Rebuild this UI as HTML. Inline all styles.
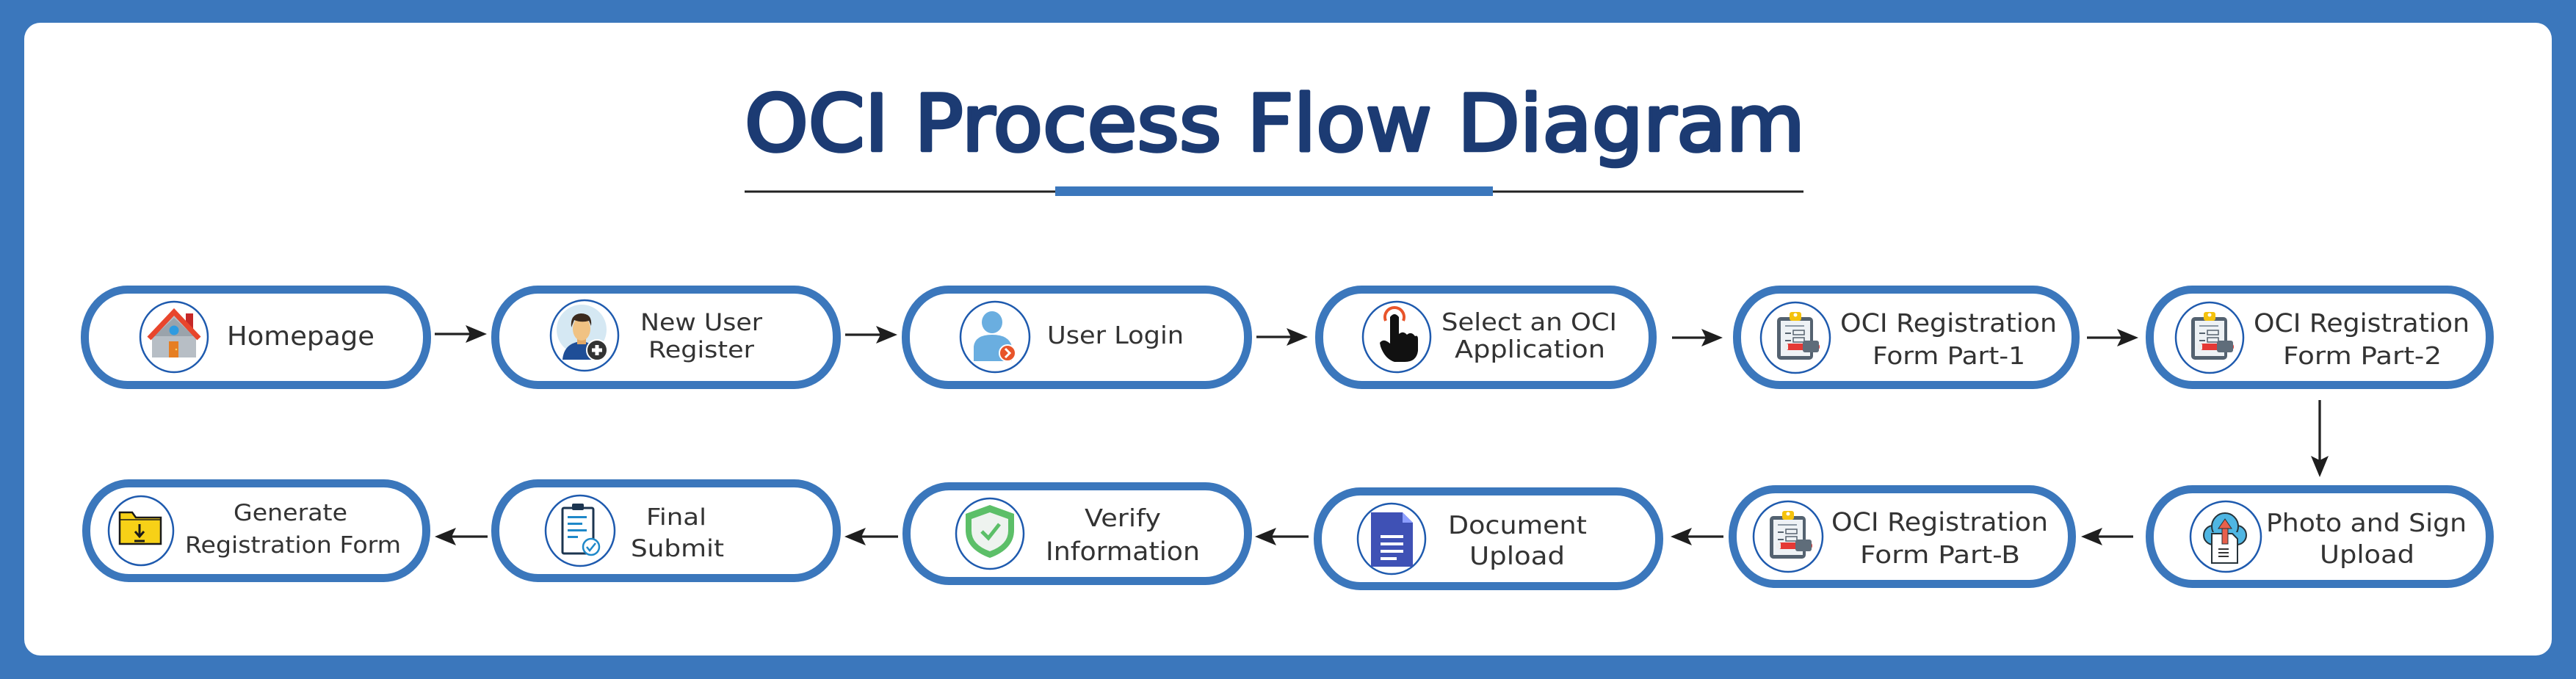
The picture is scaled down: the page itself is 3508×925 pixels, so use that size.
<!DOCTYPE html>
<html>
<head>
<meta charset="utf-8">
<style>
html,body{margin:0;padding:0;background:#3b77bc;}
svg{display:block;}
.t{font-family:"DejaVu Sans","Liberation Sans",sans-serif;fill:#333333;}
.ti{font-family:"DejaVu Sans","Liberation Sans",sans-serif;fill:#1c3b73;stroke:#1c3b73;stroke-width:4.5;stroke-linejoin:round;font-weight:normal;}
</style>
</head>
<body>
<svg width="3508" height="925" viewBox="0 0 3508 925" xmlns="http://www.w3.org/2000/svg">
  <rect x="0" y="0" width="3508" height="925" fill="#3b77bc"/>
  <rect x="33" y="31" width="3442" height="862" rx="22" ry="22" fill="#ffffff"/>

  <!-- Title -->
  <text class="ti" x="1014" y="205" font-size="106" textLength="1444" lengthAdjust="spacingAndGlyphs">OCI Process Flow Diagram</text>
  <rect x="1014" y="259.5" width="1442" height="3" fill="#222"/>
  <rect x="1437" y="254" width="596" height="13" fill="#3b77bc"/>

  <!-- Pills -->
  <g fill="#ffffff" stroke="#3b77bc" stroke-width="11">
    <rect x="115.5" y="394.5" width="466" height="130" rx="58" ry="64"/>
    <rect x="674.5" y="394.5" width="465" height="130" rx="58" ry="64"/>
    <rect x="1233.5" y="394.5" width="466" height="130" rx="58" ry="64"/>
    <rect x="1796.5" y="394.5" width="454" height="130" rx="58" ry="64"/>
    <rect x="2365.5" y="394.5" width="461" height="130" rx="58" ry="64"/>
    <rect x="2927.5" y="394.5" width="463" height="130" rx="58" ry="64"/>

    <rect x="117.5" y="658.5" width="463" height="129" rx="58" ry="64"/>
    <rect x="674.5" y="658.5" width="465" height="129" rx="58" ry="64"/>
    <rect x="1234.5" y="662.5" width="465" height="129" rx="58" ry="64"/>
    <rect x="1794.5" y="669.5" width="465" height="129" rx="58" ry="64"/>
    <rect x="2359.5" y="666.5" width="462" height="129" rx="58" ry="64"/>
    <rect x="2927.5" y="666.5" width="463" height="129" rx="58" ry="64"/>
  </g>

  <!-- Icon circles -->
  <g fill="none" stroke="#1e5aae" stroke-width="2.5">
    <ellipse cx="237" cy="459" rx="46" ry="48"/>
    <ellipse cx="796" cy="457" rx="46" ry="48"/>
    <ellipse cx="1355" cy="459" rx="47" ry="48"/>
    <ellipse cx="1902" cy="459" rx="46" ry="48"/>
    <ellipse cx="2445" cy="460" rx="47" ry="48"/>
    <ellipse cx="3009" cy="460" rx="46" ry="48"/>
    <ellipse cx="192" cy="723" rx="44" ry="47"/>
    <ellipse cx="790" cy="723" rx="47" ry="48"/>
    <ellipse cx="1348" cy="727" rx="46" ry="48"/>
    <ellipse cx="1895" cy="734" rx="46" ry="48"/>
    <ellipse cx="2435" cy="731" rx="47" ry="48"/>
    <ellipse cx="3031" cy="731" rx="48" ry="48"/>
  </g>

  <!-- Arrows -->
  <g stroke="#222" stroke-width="3.3">
    <line x1="592" y1="455" x2="640" y2="455"/>
    <line x1="1151" y1="456" x2="1199" y2="456"/>
    <line x1="1711" y1="459" x2="1758" y2="459"/>
    <line x1="2277" y1="460" x2="2323" y2="460"/>
    <line x1="2842" y1="460" x2="2889" y2="460"/>
    <line x1="3159" y1="545" x2="3159" y2="628"/>
    <line x1="2905" y1="731" x2="2857" y2="731"/>
    <line x1="2347" y1="731" x2="2298" y2="731"/>
    <line x1="1782" y1="731" x2="1732" y2="731"/>
    <line x1="1223" y1="731" x2="1173" y2="731"/>
    <line x1="664" y1="731" x2="615" y2="731"/>
  </g>
  <g fill="#1e1e1e">
    <polygon points="663,455 634,443 640,455 634,467"/>
    <polygon points="1222,456 1193,444 1199,456 1193,468"/>
    <polygon points="1781,459 1752,447 1758,459 1752,471"/>
    <polygon points="2346,460 2317,448 2323,460 2317,472"/>
    <polygon points="2912,460 2883,448 2889,460 2883,472"/>
    <polygon points="3159,650 3147,621 3159,627 3171,621"/>
    <polygon points="2834,731 2863,719 2857,731 2863,743"/>
    <polygon points="2275,731 2304,719 2298,731 2304,743"/>
    <polygon points="1709,731 1738,719 1732,731 1738,743"/>
    <polygon points="1150,731 1179,719 1173,731 1179,743"/>
    <polygon points="592,731 621,719 615,731 621,743"/>
  </g>

  <!-- Icon: House -->
  <g>
    <rect x="253" y="427" width="10" height="22" fill="#c62828"/>
    <polygon points="207,487 207,458 237,430 267,458 267,487" fill="#b7bec5"/>
    <polygon points="210,458 237,433 264,458" fill="#9aa3ab"/>
    <polyline points="203,461 237,425 271,461" fill="none" stroke="#e8452c" stroke-width="7" stroke-linejoin="miter"/>
    <circle cx="237" cy="450" r="6.5" fill="#2f9be0"/>
    <rect x="230" y="465" width="13" height="22" fill="#e67e22"/>
    <circle cx="240" cy="476" r="1.3" fill="#f6d365"/>
  </g>

  <!-- Icon: New user -->
  <g>
    <circle cx="792" cy="449" r="34" fill="#d5e8f3"/>
    <path d="M766 490 Q768 467 792 465 Q814 467 816 490 Z" fill="#1f4e97"/>
    <rect x="786" y="455" width="12" height="14" fill="#e2a866"/>
    <ellipse cx="792" cy="448" rx="12" ry="16" fill="#f0c283"/>
    <path d="M778 446 Q776 428 791 427 Q807 427 805 444 L802 437 Q792 440 782 436 Z" fill="#3b2a1e"/>
    <circle cx="813" cy="477" r="14" fill="#333" stroke="#fff" stroke-width="2"/>
    <rect x="806" y="474.5" width="14" height="5" fill="#fff"/>
    <rect x="810.5" y="470" width="5" height="14" fill="#fff"/>
  </g>

  <!-- Icon: User login -->
  <g>
    <ellipse cx="1351" cy="439" rx="14" ry="15" fill="#6aaee0"/>
    <path d="M1326 492 L1326 472 Q1328 456 1351 456 Q1374 456 1378 472 L1378 492 Z" fill="#6aaee0"/>
    <circle cx="1372" cy="481" r="11" fill="#e8542a" stroke="#fff" stroke-width="2"/>
    <polyline points="1369,475 1375,481 1369,487" fill="none" stroke="#fff" stroke-width="3"/>
  </g>

  <!-- Icon: Select (hand) -->
  <g>
    <path d="M1887 437 A13 13 0 1 1 1911 437" fill="none" stroke="#e8542a" stroke-width="4"/>
    <path d="M1893 466 L1893 432 Q1899 424 1905 432 L1905 455 Q1911 450 1916 456 Q1922 451 1927 458 Q1931 456 1931 462 L1931 478 Q1929 493 1913 493 L1899 493 Q1886 489 1880 472 L1879 467 Q1884 460 1893 468 Z" fill="#111"/>
  </g>

  <!-- Icon: Clipboards -->
  <g transform="translate(2445,460)">
    <rect x="-25" y="-28" width="49" height="58" rx="5" fill="#546270"/>
    <rect x="-20" y="-23" width="40" height="48" fill="#eef2f5"/>
    <rect x="-8" y="-35" width="16" height="12" rx="3" fill="#f4c20d"/>
    <circle cx="0" cy="-31" r="2.5" fill="#fff"/>
    <rect x="-14" y="-17" width="26" height="2" fill="#8b98a4"/>
    <rect x="-14" y="-7" width="8" height="2" fill="#56636f"/>
    <rect x="-3" y="-10" width="15" height="6" fill="none" stroke="#56636f" stroke-width="1.5"/>
    <rect x="-14" y="3" width="8" height="2" fill="#56636f"/>
    <rect x="-3" y="0" width="15" height="6" fill="none" stroke="#56636f" stroke-width="1.5"/>
    <rect x="-13" y="8" width="46" height="9" rx="4" fill="#e53935"/>
    <rect x="-16" y="9" width="6" height="7" fill="#eeeeee"/>
    <rect x="10" y="4" width="22" height="16" rx="3" fill="#5f6d7a"/>
  </g>
  <g transform="translate(3009,460)">
    <rect x="-25" y="-28" width="49" height="58" rx="5" fill="#546270"/>
    <rect x="-20" y="-23" width="40" height="48" fill="#eef2f5"/>
    <rect x="-8" y="-35" width="16" height="12" rx="3" fill="#f4c20d"/>
    <circle cx="0" cy="-31" r="2.5" fill="#fff"/>
    <rect x="-14" y="-17" width="26" height="2" fill="#8b98a4"/>
    <rect x="-14" y="-7" width="8" height="2" fill="#56636f"/>
    <rect x="-3" y="-10" width="15" height="6" fill="none" stroke="#56636f" stroke-width="1.5"/>
    <rect x="-14" y="3" width="8" height="2" fill="#56636f"/>
    <rect x="-3" y="0" width="15" height="6" fill="none" stroke="#56636f" stroke-width="1.5"/>
    <rect x="-13" y="8" width="46" height="9" rx="4" fill="#e53935"/>
    <rect x="-16" y="9" width="6" height="7" fill="#eeeeee"/>
    <rect x="10" y="4" width="22" height="16" rx="3" fill="#5f6d7a"/>
  </g>
  <g transform="translate(2435,731)">
    <rect x="-25" y="-28" width="49" height="58" rx="5" fill="#546270"/>
    <rect x="-20" y="-23" width="40" height="48" fill="#eef2f5"/>
    <rect x="-8" y="-35" width="16" height="12" rx="3" fill="#f4c20d"/>
    <circle cx="0" cy="-31" r="2.5" fill="#fff"/>
    <rect x="-14" y="-17" width="26" height="2" fill="#8b98a4"/>
    <rect x="-14" y="-7" width="8" height="2" fill="#56636f"/>
    <rect x="-3" y="-10" width="15" height="6" fill="none" stroke="#56636f" stroke-width="1.5"/>
    <rect x="-14" y="3" width="8" height="2" fill="#56636f"/>
    <rect x="-3" y="0" width="15" height="6" fill="none" stroke="#56636f" stroke-width="1.5"/>
    <rect x="-13" y="8" width="46" height="9" rx="4" fill="#e53935"/>
    <rect x="-16" y="9" width="6" height="7" fill="#eeeeee"/>
    <rect x="10" y="4" width="22" height="16" rx="3" fill="#5f6d7a"/>
  </g>

  <!-- Icon: Photo and sign upload -->
  <g transform="translate(3030,731)">
    <circle cx="-16" cy="-2" r="13" fill="#4fb6e3" stroke="#263238" stroke-width="2"/>
    <circle cx="16" cy="-2" r="13" fill="#4fb6e3" stroke="#263238" stroke-width="2"/>
    <circle cx="0" cy="-14" r="18" fill="#4fb6e3" stroke="#263238" stroke-width="2"/>
    <rect x="-17" y="-6" width="34" height="16" fill="#4fb6e3"/>
    <path d="M-18 -4 L10 -4 L17 3 L17 36 L-18 36 Z" fill="#ffffff" stroke="#263238" stroke-width="2"/>
    <rect x="-9" y="16" width="14" height="2" fill="#333"/>
    <rect x="-9" y="21" width="14" height="2" fill="#333"/>
    <rect x="-9" y="26" width="14" height="2" fill="#333"/>
    <rect x="-4" y="-12" width="8" height="22" fill="#e8604c" stroke="#263238" stroke-width="1"/>
    <polygon points="0,-24 -9,-11 9,-11" fill="#e8604c" stroke="#263238" stroke-width="1"/>
  </g>

  <!-- Icon: Verify shield -->
  <g>
    <path d="M1348 688 L1381 700 L1381 722 Q1381 748 1348 760 Q1315 748 1315 722 L1315 700 Z" fill="#5cbf68"/>
    <path d="M1348 698 L1373 707 L1373 723 Q1373 742 1348 751 Q1323 742 1323 723 L1323 707 Z" fill="#eef3ef"/>
    <polyline points="1337,724 1346,733 1361,714" fill="none" stroke="#5cbf68" stroke-width="5"/>
  </g>

  <!-- Icon: Document -->
  <g>
    <path d="M1867 698 L1910 698 L1924 712 L1924 772 L1867 772 Z" fill="#3f51b5"/>
    <polygon points="1910,698 1924,712 1910,712" fill="#8c9eff"/>
    <rect x="1880" y="729" width="31" height="4" fill="#fff"/>
    <rect x="1880" y="739" width="31" height="4" fill="#fff"/>
    <rect x="1880" y="749" width="31" height="4" fill="#fff"/>
    <rect x="1880" y="759" width="22" height="4" fill="#fff"/>
  </g>

  <!-- Icon: Final submit -->
  <g>
    <rect x="766" y="692" width="42" height="62" rx="2" fill="#fff" stroke="#1c3550" stroke-width="3"/>
    <rect x="779" y="686" width="16" height="9" rx="2" fill="#1c3550"/>
    <rect x="773" y="703" width="26" height="3" fill="#1e88c9"/>
    <rect x="773" y="712" width="20" height="3" fill="#1e88c9"/>
    <rect x="773" y="721" width="26" height="3" fill="#1e88c9"/>
    <rect x="773" y="730" width="14" height="3" fill="#1e88c9"/>
    <circle cx="805" cy="745" r="11" fill="#fff" stroke="#1e88c9" stroke-width="2.5"/>
    <polyline points="799,745 803,750 811,740" fill="none" stroke="#1e88c9" stroke-width="2.5"/>
  </g>

  <!-- Icon: Generate folder -->
  <g>
    <path d="M163 698 L180 698 L185 705 L219 705 L219 741 L163 741 Z" fill="#f7d117" stroke="#1a1a1a" stroke-width="2.5"/>
    <line x1="163" y1="708" x2="219" y2="708" stroke="#1a1a1a" stroke-width="1.5"/>
    <line x1="190" y1="714" x2="190" y2="729" stroke="#1a1a1a" stroke-width="3"/>
    <polyline points="184,724 190,731 196,724" fill="none" stroke="#1a1a1a" stroke-width="3"/>
    <line x1="183" y1="737" x2="197" y2="737" stroke="#1a1a1a" stroke-width="3"/>
  </g>

  <!-- Labels -->
  <text class="t" x="309" y="470" font-size="36" textLength="201" lengthAdjust="spacingAndGlyphs">Homepage</text>

  <text class="t" x="872" y="450" font-size="32" textLength="166" lengthAdjust="spacingAndGlyphs">New User</text>
  <text class="t" x="883" y="487" font-size="31" textLength="144" lengthAdjust="spacingAndGlyphs">Register</text>

  <text class="t" x="1426" y="468" font-size="33" textLength="186" lengthAdjust="spacingAndGlyphs">User Login</text>

  <text class="t" x="1963" y="450" font-size="33" textLength="239" lengthAdjust="spacingAndGlyphs">Select an OCI</text>
  <text class="t" x="1981" y="487" font-size="33" textLength="205" lengthAdjust="spacingAndGlyphs">Application</text>

  <text class="t" x="2506" y="452" font-size="35" textLength="295" lengthAdjust="spacingAndGlyphs">OCI Registration</text>
  <text class="t" x="2550" y="496" font-size="33" textLength="208" lengthAdjust="spacingAndGlyphs">Form Part-1</text>

  <text class="t" x="3069" y="452" font-size="35" textLength="294" lengthAdjust="spacingAndGlyphs">OCI Registration</text>
  <text class="t" x="3109" y="496" font-size="33" textLength="216" lengthAdjust="spacingAndGlyphs">Form Part-2</text>

  <text class="t" x="2494" y="723" font-size="35" textLength="295" lengthAdjust="spacingAndGlyphs">OCI Registration</text>
  <text class="t" x="2533" y="767" font-size="33" textLength="218" lengthAdjust="spacingAndGlyphs">Form Part-B</text>

  <text class="t" x="3086" y="724" font-size="34" textLength="273" lengthAdjust="spacingAndGlyphs">Photo and Sign</text>
  <text class="t" x="3159" y="767" font-size="34" textLength="129" lengthAdjust="spacingAndGlyphs">Upload</text>

  <text class="t" x="1972" y="727" font-size="34" textLength="189" lengthAdjust="spacingAndGlyphs">Document</text>
  <text class="t" x="2001" y="769" font-size="34" textLength="130" lengthAdjust="spacingAndGlyphs">Upload</text>

  <text class="t" x="1477" y="717" font-size="33" textLength="104" lengthAdjust="spacingAndGlyphs">Verify</text>
  <text class="t" x="1424" y="763" font-size="35" textLength="210" lengthAdjust="spacingAndGlyphs">Information</text>

  <text class="t" x="880" y="715" font-size="31" textLength="82" lengthAdjust="spacingAndGlyphs">Final</text>
  <text class="t" x="859" y="758" font-size="32" textLength="127" lengthAdjust="spacingAndGlyphs">Submit</text>

  <text class="t" x="318" y="709" font-size="31" textLength="155" lengthAdjust="spacingAndGlyphs">Generate</text>
  <text class="t" x="252" y="753" font-size="31" textLength="294" lengthAdjust="spacingAndGlyphs">Registration Form</text>
</svg>
</body>
</html>
